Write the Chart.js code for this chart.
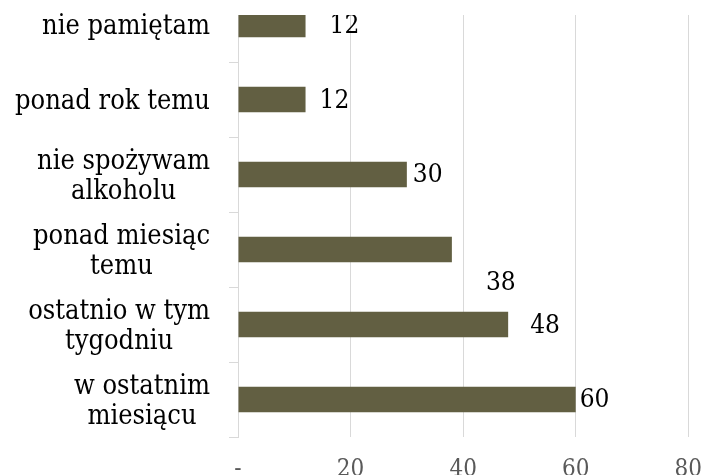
<!DOCTYPE html>
<html><head><meta charset="utf-8">
<script src="https://cdn.jsdelivr.net/npm/chart.js@4"></script>
<style>
html,body{margin:0;padding:0;background:#fff;overflow:hidden;width:701px;height:475px;}
#wrap{position:absolute;left:0;top:-40px;width:720px;height:560px;}
</style></head><body>
<div id="wrap"><canvas id="c"></canvas></div>
<script>
const categories = [["nie pamiętam"], ["ponad rok temu"], ["nie spożywam", "alkoholu"], ["ponad miesiąc", "temu"], ["ostatnio w tym", "tygodniu"], ["w ostatnim", "miesiącu"]];
const values = [12, 12, 30, 38, 48, 60];
const xTickLabels = ["-", "20", "40", "60", "80"];

const FONT = '"DejaVu Serif Condensed", "DejaVu Serif", serif';
const OFF = 40; // canvas shifted up by this many px

const clipPlugin = {
  id: 'clipTop',
  beforeDraw(chart) {
    const ctx = chart.ctx;
    ctx.save();
    ctx.beginPath();
    ctx.rect(0, OFF + 15, chart.width, chart.height);
    ctx.clip();
  },
  afterDraw(chart) { chart.ctx.restore(); }
};

const catLabelPlugin = {
  id: 'catLabels',
  afterDraw(chart) {
    const ctx = chart.ctx, y = chart.scales.y;
    ctx.save();
    ctx.font = '27px ' + FONT;
    ctx.fillStyle = '#000';
    ctx.textBaseline = 'middle';
    ctx.textAlign = 'center';
    const right = 210, lh = 30;
    categories.forEach((lines, i) => {
      const cy = y.getPixelForValue(i) + 2;
      const w = Math.max(...lines.map(l => ctx.measureText(l).width));
      const cx = right - w / 2;
      lines.forEach((l, j) => {
        ctx.fillText(l, cx, cy + (j - (lines.length - 1) / 2) * lh);
      });
    });
    ctx.restore();
  }
};

const valueLabelPlugin = {
  id: 'valueLabels',
  afterDatasetsDraw(chart, args, opts) {
    const ctx = chart.ctx;
    const meta = chart.getDatasetMeta(0);
    ctx.save();
    ctx.font = '26px ' + FONT;
    ctx.fillStyle = '#000';
    ctx.textBaseline = 'middle';
    ctx.textAlign = 'left';
    meta.data.forEach((bar, i) => {
      const o = opts.offsets[i] || [6, 0];
      ctx.fillText(String(values[i]), bar.x + o[0], bar.y + o[1]);
    });
    ctx.restore();
  }
};

new Chart(document.getElementById('c'), {
  type: 'bar',
  data: {
    labels: categories,
    datasets: [{
      data: values,
      backgroundColor: '#625f42',
      borderWidth: 0,
      barPercentage: 0.34,
      categoryPercentage: 1.0
    }]
  },
  plugins: [clipPlugin, catLabelPlugin, valueLabelPlugin],
  options: {
    indexAxis: 'y',
    responsive: true,
    maintainAspectRatio: false,
    animation: false,
    layout: { padding: { top: 27, left: 0, right: 13, bottom: 0 } },
    plugins: {
      legend: { display: false },
      tooltip: { enabled: false },
      valueLabels: { offsets: [[24, 2], [14, 2], [6, 1], [34, 34], [22, 2], [4, 1]] }
    },
    scales: {
      x: {
        min: 0, max: 80,
        afterFit(s) { s.height = 560 - 477; },
        border: { display: false },
        grid: { color: '#d9d9d9', lineWidth: 1, drawTicks: false },
        ticks: {
          stepSize: 20,
          padding: 18,
          color: '#595959',
          font: { family: FONT, size: 24 },
          callback: (v, i) => xTickLabels[i]
        }
      },
      y: {
        afterFit(s) { s.width = 238; },
        border: { display: true, color: '#d9d9d9', width: 1 },
        grid: { color: '#d9d9d9', drawOnChartArea: false, drawTicks: true, tickLength: 9, offset: true },
        ticks: { display: false }
      }
    }
  }
});
</script>
</body></html>
